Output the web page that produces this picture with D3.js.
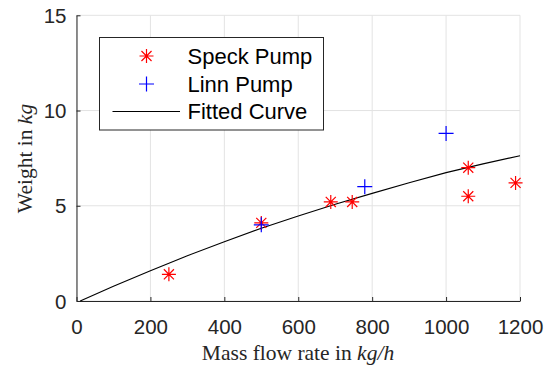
<!DOCTYPE html>
<html><head><meta charset="utf-8">
<script src="https://cdn.jsdelivr.net/npm/d3@7"></script>
<style>body{margin:0;background:#fff}svg{display:block}</style>
</head><body>
<svg id="c" width="546" height="368"></svg>
<script>
const speckX = [250, 500, 688, 746, 1060, 1060, 1188];
const speckY = [1.4, 4.1, 5.2, 5.2, 7.0, 5.5, 6.2];
const linnX = [500, 780, 1000];
const linnY = [4.0, 6.0, 8.8];
const curveX = [10, 100, 200, 300, 400, 500, 600, 700, 800, 900, 1000, 1100, 1200];
const curveY = [0.0, 0.78, 1.59, 2.38, 3.11, 3.82, 4.46, 5.08, 5.65, 6.21, 6.74, 7.2, 7.63];
const xTicks = [0, 200, 400, 600, 800, 1000, 1200];
const yTicks = [0, 5, 10, 15];
const legendLabels = ["Speck Pump", "Linn Pump", "Fitted Curve"];

const svg = d3.select("#c");
const x = d3.scaleLinear().domain([0, 1200]).range([76.5, 520]);
const y = d3.scaleLinear().domain([0, 15]).range([301, 15.3]);
const axisCol = "#262626";

// grid
svg.append("g").selectAll("line").data(xTicks).join("line")
  .attr("x1", d => x(d)).attr("x2", d => x(d)).attr("y1", y(0)).attr("y2", y(15))
  .attr("stroke", "#e3e3e3").attr("stroke-width", 1);
svg.append("g").selectAll("line").data(yTicks).join("line")
  .attr("x1", x(0)).attr("x2", x(1200)).attr("y1", d => y(d)).attr("y2", d => y(d))
  .attr("stroke", "#e3e3e3").attr("stroke-width", 1);

// axes
const xAxis = d3.axisBottom(x).tickValues(xTicks).tickFormat(d3.format("d")).tickSizeInner(-4).tickSizeOuter(0);
const gx = svg.append("g").attr("transform", `translate(0,${y(0)})`).call(xAxis);
const yAxis = d3.axisLeft(y).tickValues(yTicks).tickFormat(d3.format("d")).tickSizeInner(-4).tickSizeOuter(0);
const gy = svg.append("g").attr("transform", `translate(${x(0)},0)`).call(yAxis);
[gx, gy].forEach(g => {
  g.select(".domain").attr("stroke", axisCol);
  g.selectAll(".tick line").attr("stroke", axisCol);
  g.selectAll(".tick text").attr("fill", axisCol)
    .style("font-family", "'Liberation Sans', Arial, sans-serif").style("font-size", "20.5px");
});
gx.selectAll(".tick text").attr("dy", "0.71em").attr("y", 18);
gy.selectAll(".tick text").attr("x", -10).attr("dy", "0.35em");

// curve
const line = d3.line().x((d, i) => x(curveX[i])).y((d, i) => y(curveY[i]));
svg.append("path").datum(curveY).attr("d", line)
  .attr("fill", "none").attr("stroke", "#000").attr("stroke-width", 1.1);

function star(g, cx, cy, r) {
  const d = r * 0.72;
  const p = `M${cx - r},${cy}H${cx + r}M${cx},${cy - r}V${cy + r}M${cx - d},${cy - d}L${cx + d},${cy + d}M${cx - d},${cy + d}L${cx + d},${cy - d}`;
  g.append("path").attr("d", p).attr("stroke", "#ff0000").attr("stroke-width", 1.2).attr("fill", "none");
}
function plus(g, cx, cy, r) {
  const p = `M${cx - r},${cy}H${cx + r}M${cx},${cy - r}V${cy + r}`;
  g.append("path").attr("d", p).attr("stroke", "#0000ff").attr("stroke-width", 1.2).attr("fill", "none");
}
const gs = svg.append("g");
speckX.forEach((v, i) => star(gs, x(v), y(speckY[i]), 7));
const gl = svg.append("g");
linnX.forEach((v, i) => plus(gl, x(v), y(linnY[i]), 7.5));

// legend
const lg = svg.append("g");
lg.append("rect").attr("x", 99.5).attr("y", 37.5).attr("width", 224).attr("height", 92.5)
  .attr("fill", "#fff").attr("stroke", axisCol).attr("stroke-width", 1);
const rowsY = [56, 84, 111.5];
star(lg, 146.5, rowsY[0], 7);
plus(lg, 146.5, rowsY[1], 7.5);
lg.append("line").attr("x1", 112.5).attr("x2", 180).attr("y1", rowsY[2]).attr("y2", rowsY[2])
  .attr("stroke", "#000").attr("stroke-width", 1.1);
lg.selectAll("text").data(legendLabels).join("text")
  .attr("x", 187.5).attr("y", (d, i) => rowsY[i]).attr("dy", "0.35em")
  .style("font-family", "'Liberation Sans', Arial, sans-serif").style("font-size", "22px")
  .attr("fill", "#000").text(d => d);

// axis labels
const xl = svg.append("text").attr("x", 298).attr("y", 360).attr("text-anchor", "middle")
  .style("font-family", "'Liberation Serif', 'DejaVu Serif', serif").style("font-size", "21.5px").attr("fill", axisCol);
xl.append("tspan").text("Mass flow rate in ");
xl.append("tspan").style("font-style", "italic").text("kg/h");
const yl = svg.append("text").attr("transform", "translate(32,158.5) rotate(-90)").attr("text-anchor", "middle")
  .style("font-family", "'Liberation Serif', 'DejaVu Serif', serif").style("font-size", "21.5px").attr("fill", axisCol);
yl.append("tspan").text("Weight in ");
yl.append("tspan").style("font-style", "italic").text("kg");
</script>
</body></html>
